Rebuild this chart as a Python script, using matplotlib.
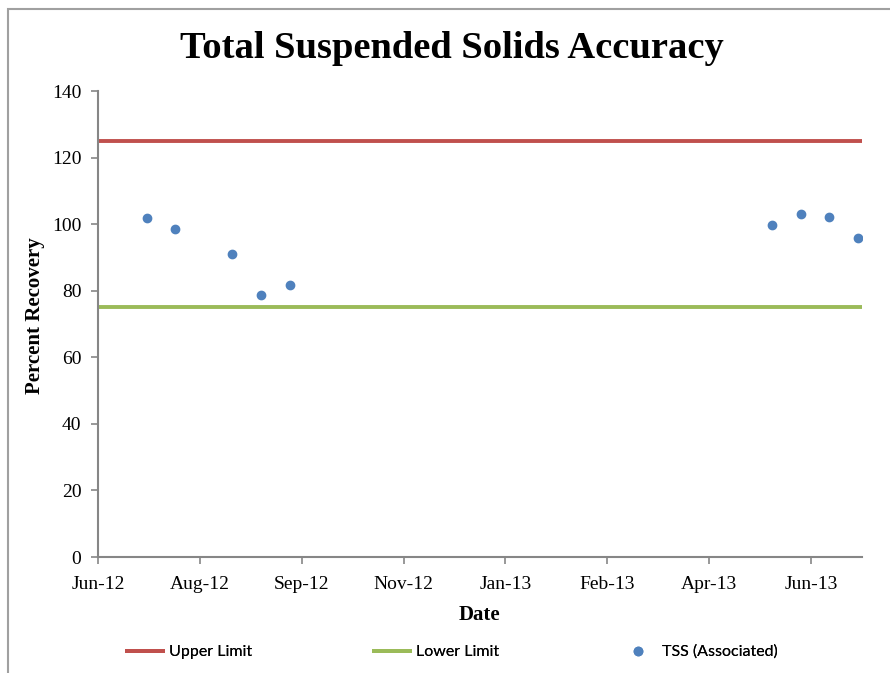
import matplotlib
matplotlib.use("Agg")
import matplotlib.pyplot as plt
import matplotlib.dates as mdates
from matplotlib.patches import Rectangle
import datetime as dt

# ---- data ----
tss_dates = ['2012-07-14', '2012-07-28', '2012-08-25', '2012-09-08', '2012-09-22',
             '2013-05-17', '2013-05-31', '2013-06-14', '2013-06-28']
tss_values = [101.8, 98.5, 91.0, 78.6, 81.7, 99.7, 103.0, 102.1, 95.8]
limit_dates = ['2012-06-20', '2013-06-30']
upper_limit = [125, 125]
lower_limit = [75, 75]
y_ticks = [0, 20, 40, 60, 80, 100, 120, 140]

def to_dt(s):
    return [dt.datetime.strptime(x, '%Y-%m-%d') for x in s]

W, H = 890, 673
fig = plt.figure(figsize=(W/100, H/100), dpi=100)
fig.patch.set_facecolor('white')

# chart border
fig.add_artist(Rectangle((7.5/W, -0.05), 1.2, 1 - 9.5/H + 0.05, transform=fig.transFigure,
                         fill=False, edgecolor='#a0a0a0', linewidth=1.5))

ax = fig.add_axes([98/W, 1-557/H, (862-98)/W, (557-91)/H])

ld = to_dt(limit_dates)
h1, = ax.plot(ld, upper_limit, color='#C0504D', lw=2.8, solid_capstyle='butt', label='Upper Limit', zorder=2)
h2, = ax.plot(ld, lower_limit, color='#9BBB59', lw=2.8, solid_capstyle='butt', label='Lower Limit', zorder=2)
h3, = ax.plot(to_dt(tss_dates), tss_values, linestyle='none', marker='o', ms=6,
              color='#4F81BD', markeredgecolor='#4F81BD', label='TSS (Associated)', zorder=3)

start = ld[0]
ticks = [start + dt.timedelta(days=50*k) for k in range(8)]
ax.set_xlim(ld[0], ld[1])
ax.set_xticks(ticks)
ax.xaxis.set_major_formatter(mdates.DateFormatter('%b-%y'))
ax.set_ylim(0, 140)
ax.set_yticks(y_ticks)

serif = 'Liberation Serif'
for lab in ax.get_xticklabels() + ax.get_yticklabels():
    lab.set_fontfamily(serif)
    lab.set_fontsize(14)
    lab.set_color('black')

for s in ['top', 'right']:
    ax.spines[s].set_visible(False)
for s in ['left', 'bottom']:
    ax.spines[s].set_color('#868686')
    ax.spines[s].set_linewidth(1.5)
ax.tick_params(axis='both', direction='out', length=5, width=1.2, color='#868686')
ax.tick_params(axis='x', pad=9)
ax.tick_params(axis='y', pad=7)

fig.text(452/W, 1-48/H, 'Total Suspended Solids Accuracy', ha='center', va='center',
         fontfamily=serif, fontweight='bold', fontsize=27.7)
fig.text(35/W, 1-316/H, 'Percent Recovery', ha='center', va='center', rotation=90,
         fontfamily=serif, fontweight='bold', fontsize=15)
fig.text(479/W, 1-615/H, 'Date', ha='center', va='center',
         fontfamily=serif, fontweight='bold', fontsize=15)

legprop = {'family': 'Lato', 'size': 11.5}
fs_px = 11.5 * 100 / 72
for h, lab, x0 in [(h1, 'Upper Limit', 125), (h2, 'Lower Limit', 372), (h3, 'TSS (Associated)', 618)]:
    lg = fig.legend([h], [lab], loc='center left', bbox_to_anchor=(x0/W, 1-652/H),
                    frameon=False, prop=legprop, borderpad=0, borderaxespad=0,
                    handlelength=40/fs_px, handletextpad=4/fs_px, numpoints=1)
    fig.add_artist(lg)

fig.savefig('out.png', dpi=100, facecolor='white')
